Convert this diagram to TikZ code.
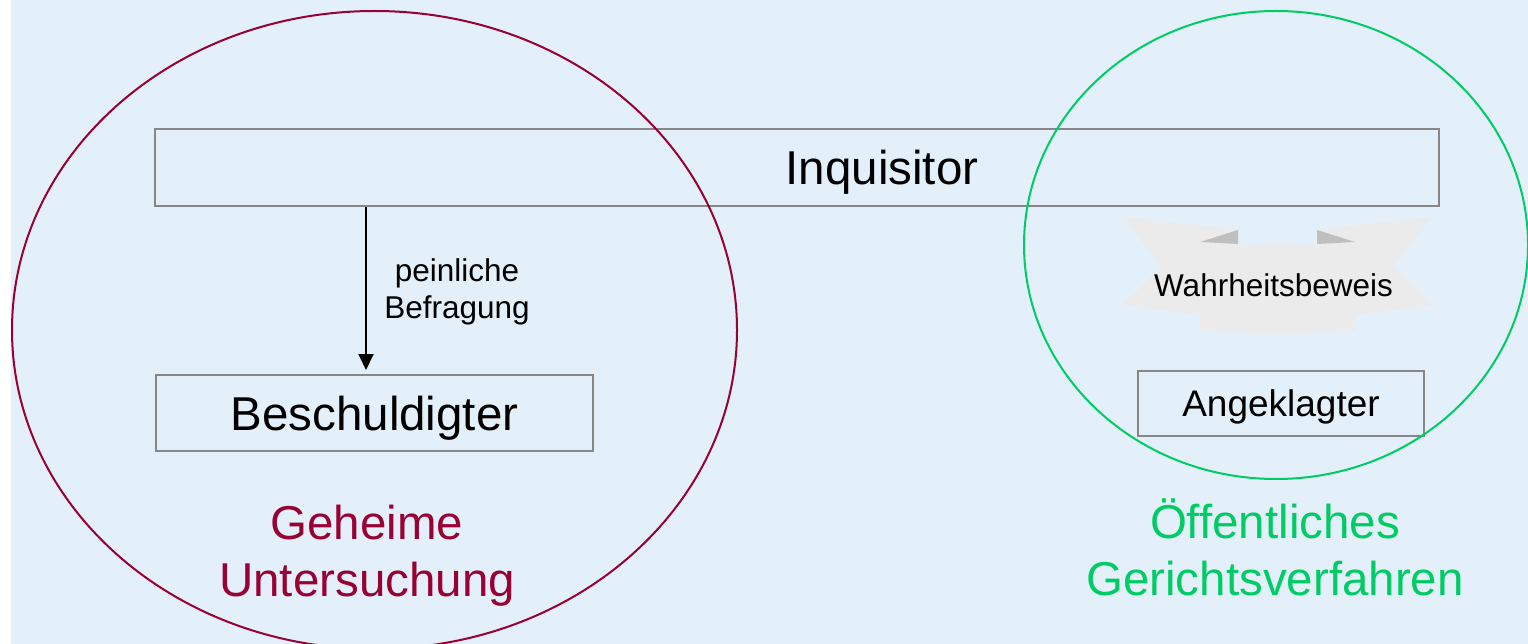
\documentclass[tikz,border=0pt]{standalone}
\usepackage{fontspec}
\setmainfont{Liberation Sans}
\usetikzlibrary{arrows.meta}
\definecolor{bgblue}{HTML}{E3EFF9}
\definecolor{crim}{HTML}{990033}
\definecolor{grn}{HTML}{00CC66}
\definecolor{boxgray}{HTML}{878787}
\definecolor{ribbonlight}{HTML}{EBEBEB}
\definecolor{ribbondark}{HTML}{BFBFBF}
\tikzset{
  pbox/.style={draw=boxgray, line width=2pt, inner sep=0pt, text depth=0pt},
  bigtext/.style={font=\fontsize{47.5}{57}\selectfont},
  midtext/.style={font=\fontsize{37}{44}\selectfont},
  smalltext/.style={font=\fontsize{31.5}{37}\selectfont},
  ringline/.style={line width=2pt},
  arrowline/.style={line width=2pt, -{Triangle[width=15pt,length=16pt]}, shorten >=4pt},
}
\begin{document}
\begin{tikzpicture}[x=1pt, y=-1pt]
\useasboundingbox (0,0) rectangle (1528,644);
\clip (0,0) rectangle (1528,644);
\fill[bgblue] (11,0) rectangle (1528,644);

% ribbon
\fill[ribbonlight] (1123,217) .. controls (1165,222) and (1205,226) .. (1238,230)
  -- (1238,245) .. controls (1265,244) and (1290,244) .. (1317,245)
  -- (1317,230) .. controls (1350,226) and (1390,222) .. (1432,217)
  -- (1393,267) -- (1432,305) .. controls (1400,309) and (1375,312) .. (1355,315)
  -- (1355,330) .. controls (1305,334) and (1250,334) .. (1200,330)
  -- (1200,315) .. controls (1180,312) and (1155,309) .. (1123,305)
  -- (1162,267) -- cycle;
\fill[ribbondark] (1200,242) -- (1238,230) -- (1238,244) -- cycle;
\fill[ribbondark] (1355,242) -- (1317,230) -- (1317,244) -- cycle;
\node[smalltext, text height=22.5pt, text depth=0pt, inner sep=0pt] (wb) at (1273.5,285.5) {Wahrheitsbeweis};

% boxes
\node[pbox, bigtext, text height=34pt, minimum width=1284pt, minimum height=77pt] (inq) at (797,167.5) {\hspace*{170pt}Inquisitor};
\node[pbox, bigtext, text height=34pt, minimum width=437pt, minimum height=76pt] (besch) at (374.5,413) {Beschuldigter};
\node[pbox, midtext, text height=26.5pt, minimum width=286pt, minimum height=65pt] (ang) at (1281,403.5) {Angeklagter};

% arrow
\coordinate (ax) at (366,0);
\draw[arrowline] (inq.south -| ax) -- (besch.north -| ax);
\node[smalltext, align=center, inner sep=0pt] (pb) at (457,292) {peinliche\\Befragung};

% ellipses
\draw[crim, ringline] (374.5,330) ellipse [x radius=362.5, y radius=319];
\draw[grn, ringline] (1276,245) ellipse [x radius=252, y radius=234];

% captions
\node[bigtext, crim, align=center, inner sep=0pt] (geh) at (367,556) {Geheime\\Untersuchung};
\node[bigtext, grn, align=center, inner sep=0pt] (oef) at (1275,547) {Öffentliches\\Gerichtsverfahren};
\end{tikzpicture}
\end{document}
